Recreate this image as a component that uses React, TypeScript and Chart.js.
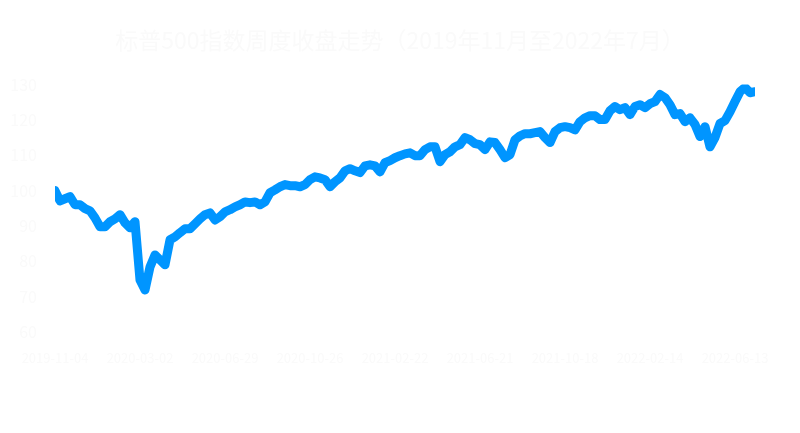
import React, { useEffect, useRef } from "react";
import { Chart, registerables } from "chart.js";

Chart.register(...registerables);

const chartTitle = "标普500指数周度收盘走势（2019年11月至2022年7月）";
const seriesLabel = "指数（起点=100）";

// one label every 17 weeks
const tickLabels = [
  "2019-11-04",
  "2020-03-02",
  "2020-06-29",
  "2020-10-26",
  "2021-02-22",
  "2021-06-21",
  "2021-10-18",
  "2022-02-14",
  "2022-06-13",
];
const weeksPerTick = 17;

const weeklyValues = [
  100.0, 97.1, 97.7, 98.3, 96.0, 96.0, 94.9, 94.3, 92.3, 89.8,
  89.8, 91.2, 92.0, 93.2, 90.9, 89.5, 91.2, 74.7, 71.9, 78.4,
  81.8, 80.4, 79.0, 86.1, 86.9, 88.1, 89.2, 89.2, 90.6, 92.0,
  93.2, 93.7, 91.7, 92.6, 94.0, 94.6, 95.4, 96.0, 96.8, 96.6,
  96.8, 96.0, 96.8, 99.4, 100.2, 101.1, 101.7, 101.4, 101.4, 101.1,
  101.7, 103.1, 103.9, 103.6, 103.1, 101.1, 102.5, 103.6, 105.6, 106.2,
  105.6, 105.1, 107.0, 107.3, 107.0, 105.3, 107.9, 108.5, 109.3, 109.9,
  110.4, 110.7, 109.9, 109.9, 111.6, 112.4, 112.4, 108.2, 110.2, 111.0,
  112.4, 113.0, 115.0, 114.4, 113.3, 113.0, 111.6, 113.8, 113.6, 111.6,
  109.3, 110.2, 114.4, 115.5, 116.1, 116.1, 116.4, 116.7, 115.0, 113.6,
  116.7, 117.8, 118.1, 117.8, 117.2, 119.5, 120.6, 121.2, 121.2, 120.1,
  120.1, 122.6, 123.8, 122.9, 123.5, 121.5, 123.8, 124.3, 123.5, 124.6,
  125.2, 127.2, 126.3, 124.3, 121.5, 121.8, 119.5, 120.6, 118.7, 115.3,
  118.1, 112.4, 115.0, 119.0, 119.8, 122.3, 125.2, 128.0, 129.2, 127.7,
  128.0,
];

const yMin = 60;
const yMax = 130;
const yStep = 10;

const textColor = "#fafafa";
const lineColor = "#0095FF";
const fontFamily = "'Noto Sans CJK SC', 'Liberation Sans', sans-serif";

export default function App() {
  const canvasRef = useRef<HTMLCanvasElement | null>(null);

  useEffect(() => {
    if (!canvasRef.current) return;
    const lastIndex = weeklyValues.length - 1;
    const chart = new Chart(canvasRef.current, {
      type: "line",
      data: {
        datasets: [
          {
            label: seriesLabel,
            data: weeklyValues.map((v, i) => ({ x: i, y: v })),
            borderColor: lineColor,
            backgroundColor: lineColor,
            borderWidth: 9,
            borderCapStyle: "round",
            borderJoinStyle: "round",
            pointRadius: 0,
            tension: 0,
            fill: false,
            yAxisID: "y",
          },
        ],
      },
      options: {
        animation: false,
        responsive: true,
        maintainAspectRatio: false,
        layout: { padding: 0 },
        plugins: {
          legend: { display: false },
          tooltip: { enabled: false },
          title: {
            display: true,
            text: chartTitle,
            color: textColor,
            font: { family: fontFamily, size: 23, weight: "normal" },
            padding: { top: 18, bottom: 31 },
          },
        },
        scales: {
          x: {
            type: "linear",
            min: 0,
            max: lastIndex,
            grid: { display: false },
            border: { display: false },
            afterFit: (scale: any) => {
              scale.height = 93;
              scale.paddingLeft = 0;
              scale.paddingRight = 0;
            },
            afterBuildTicks: (scale: any) => {
              scale.ticks = tickLabels.map((_, i) => ({ value: i * weeksPerTick }));
            },
            ticks: {
              color: textColor,
              font: { family: fontFamily, size: 13 },
              padding: 10,
              maxRotation: 0,
              autoSkip: false,
              callback: (v: any) => tickLabels[Math.round(Number(v) / weeksPerTick)] ?? "",
            },
          },
          y: {
            position: "left",
            min: yMin,
            max: yMax,
            grid: { display: false },
            border: { display: false },
            afterFit: (scale: any) => {
              scale.width = 47;
            },
            ticks: {
              stepSize: yStep,
              color: textColor,
              font: { family: fontFamily, size: 16 },
              padding: 10,
            },
          },
          yRight: {
            type: "linear",
            position: "right",
            min: 0,
            max: 1,
            grid: { display: false, drawTicks: false },
            border: { display: false },
            ticks: { display: false },
            afterFit: (scale: any) => {
              scale.width = 37;
            },
          },
        },
      },
    });
    return () => chart.destroy();
  }, []);

  return (
    <div style={{ width: 784, height: 417, position: "relative" }}>
      <canvas ref={canvasRef} />
    </div>
  );
}
